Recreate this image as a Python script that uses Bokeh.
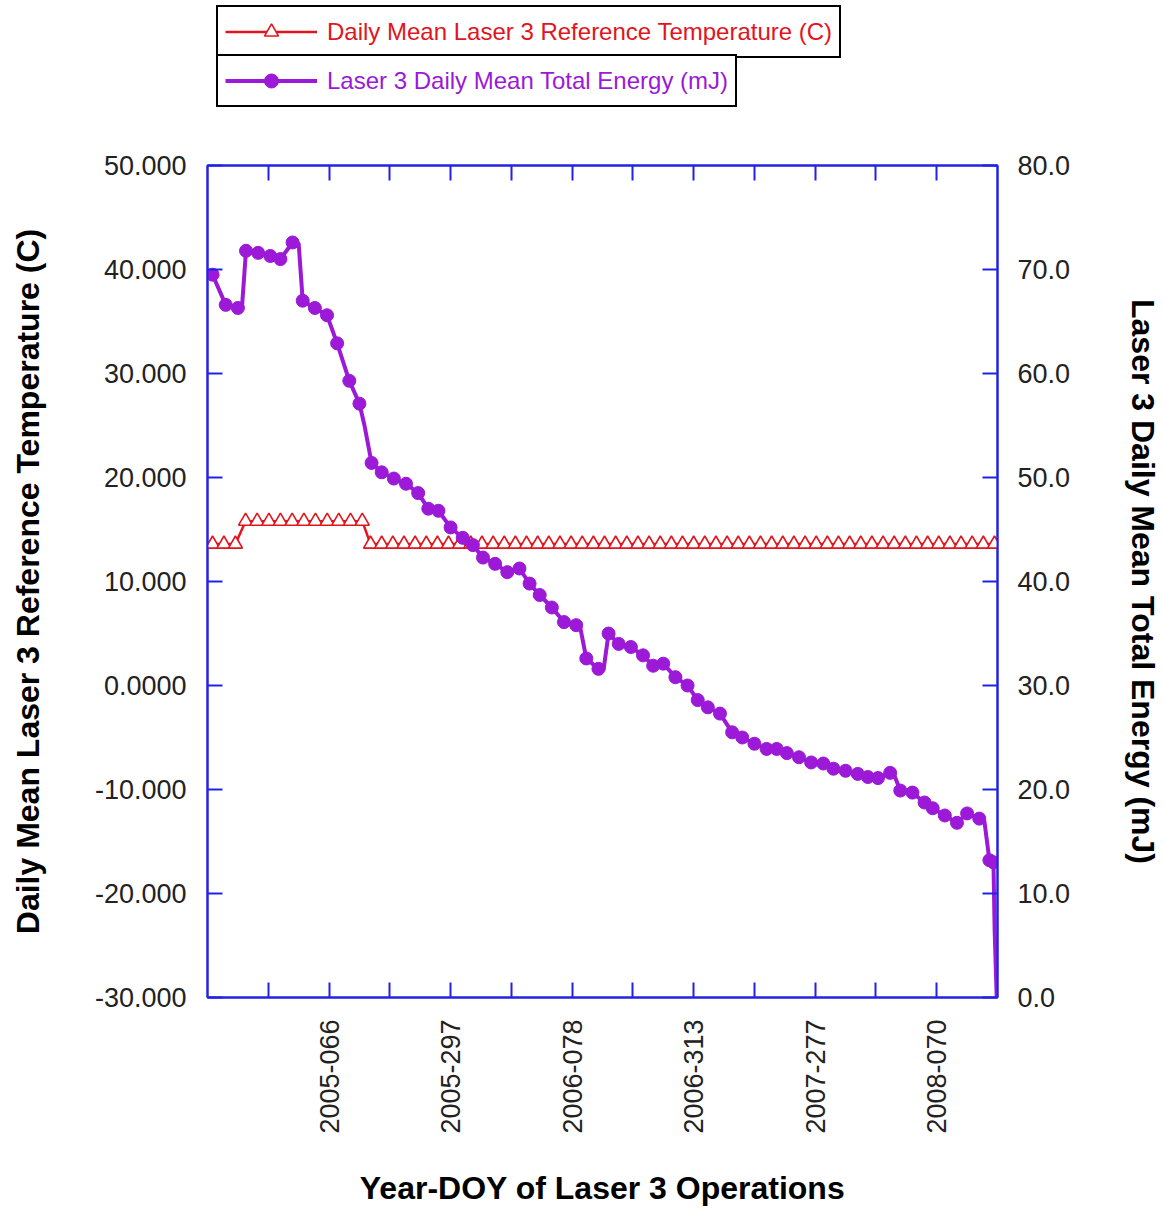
import math
from bokeh.plotting import figure
from bokeh.layouts import column
from bokeh.models import Range1d, LinearAxis, FixedTicker, Legend, LegendItem
from bokeh.embed import file_html
from bokeh.resources import INLINE

# ---------------- data ----------------
# x = day index of Laser 3 operations
energy_days = [2.5, 9, 15, 19, 25, 31, 36, 42, 47, 53, 59, 64, 70, 75, 81, 86, 92, 98,
               104, 109, 114, 120, 126, 131, 136, 142, 148, 154, 159, 164, 170, 176,
               182, 187, 193, 198, 203, 209, 215, 220, 225, 231, 237, 242, 247, 253,
               259, 264, 270, 276, 281, 286, 292, 298, 304, 309, 315, 321, 326, 331,
               337, 342, 348, 354, 358, 364, 370, 375, 381, 386, 388]
energy_mj = [69.5, 66.6, 66.3, 71.8, 71.6, 71.3, 71.0, 72.6, 67.0, 66.3, 65.6, 62.9,
             59.3, 57.1, 51.4, 50.5, 49.9, 49.4, 48.5, 47.0, 46.8, 45.2, 44.2, 43.5,
             42.3, 41.7, 40.9, 41.25, 39.8, 38.7, 37.5, 36.1, 35.8, 32.6, 31.6, 35.0,
             34.0, 33.7, 32.9, 31.9, 32.1, 30.8, 30.0, 28.6, 27.9, 27.3, 25.5, 25.0,
             24.4, 23.9, 23.9, 23.5, 23.1, 22.6, 22.5, 22.0, 21.8, 21.5, 21.2, 21.1,
             21.6, 19.9, 19.7, 18.75, 18.2, 17.5, 16.8, 17.7, 17.2, 13.2, 13.0]
# line-only vertices (steps between markers, final drop)
energy_step_days = [17.0, 45.0, 77.5, 184.0, 195.5, 339.0, 383.5, 388.6, 389.6]
energy_step_mj = [66.3, 72.5, 55.0, 35.6, 31.5, 21.4, 17.0, 6.4, 0.0]

temp_days = [2.5, 8.1, 13.8,
             18.8, 24.5, 30.3, 36.0, 41.8, 47.6, 53.3, 59.1, 64.8, 70.6, 76.4,
             80.5, 86.0, 91.5, 97.0, 102.5, 108.0, 113.5, 119.0, 124.5, 130.0, 135.5,
             141.0, 146.5, 152.0, 157.5, 163.0, 168.5, 174.0, 179.5, 185.0, 190.5,
             196.0, 201.5, 207.0, 212.5, 218.0, 223.5, 229.0, 234.5, 240.0, 245.5,
             251.0, 256.5, 262.0, 267.5, 273.0, 278.5, 284.0, 289.5, 295.0, 300.5,
             306.0, 311.5, 317.0, 322.5, 328.0, 333.5, 339.0, 344.5, 350.0, 355.5,
             361.0, 366.5, 372.0, 377.5, 383.0, 388.5]
temp_c = [13.6] * 3 + [15.8] * 11 + [13.6] * 57

x_tick_days = [30, 60, 90, 120, 150, 180, 210, 240, 270, 300, 330, 360]
x_tick_labels = ["", "2005-066", "", "2005-297", "", "2006-078", "",
                 "2006-313", "", "2007-277", "", "2008-070"]
temp_ticks = [-30, -20, -10, 0, 10, 20, 30, 40, 50]
temp_tick_labels = ["-30.000", "-20.000", "-10.000", "0.0000", "10.000",
                    "20.000", "30.000", "40.000", "50.000"]
energy_ticks = [0, 10, 20, 30, 40, 50, 60, 70, 80]
energy_tick_labels = ["0.0", "10.0", "20.0", "30.0", "40.0", "50.0", "60.0", "70.0", "80.0"]

temp_name = "Daily Mean Laser 3 Reference Temperature (C)"
energy_name = "Laser 3 Daily Mean Total Energy (mJ)"

# ---------------- style ----------------
RED = "#E2141C"
PURPLE = "#9B19D7"
BLUE = "#2222E6"
FONT = "Liberation Sans"
W = 1164
LEG_H = 130
MAIN_H = 1078

p = figure(width=W, height=MAIN_H, x_range=Range1d(0, 390), y_range=Range1d(-30, 50),
           output_backend="svg", toolbar_location=None,
           x_axis_location=None, y_axis_location=None,
           min_border_left=207, min_border_right=W - 997, min_border_top=165 - LEG_H,
           min_border_bottom=MAIN_H - (997 - LEG_H))
p.extra_y_ranges = {"energy": Range1d(0, 80)}
p.xgrid.visible = False
p.ygrid.visible = False
p.outline_line_color = BLUE
p.outline_line_width = 2
p.background_fill_color = "white"
p.border_fill_color = "white"


def style_axis(ax):
    ax.axis_line_color = BLUE
    ax.axis_line_width = 2
    ax.major_tick_line_color = BLUE
    ax.major_tick_line_width = 2
    ax.major_tick_in = 15
    ax.major_tick_out = 0
    ax.minor_tick_line_color = None
    ax.major_label_text_font = FONT
    ax.major_label_text_font_size = "27px"
    ax.major_label_text_color = "#222222"
    ax.axis_label_text_font = FONT
    ax.axis_label_text_font_size = "32px"
    ax.axis_label_text_font_style = "bold"
    ax.axis_label_text_color = "black"


left = LinearAxis(ticker=FixedTicker(ticks=temp_ticks), axis_label=temp_name)
left.major_label_overrides = dict(zip(temp_ticks, temp_tick_labels))
style_axis(left)
left.major_label_standoff = 21
left.axis_label_standoff = 46
p.add_layout(left, "left")

right = LinearAxis(y_range_name="energy", ticker=FixedTicker(ticks=energy_ticks),
                   axis_label=energy_name)
right.major_label_overrides = dict(zip(energy_ticks, energy_tick_labels))
style_axis(right)
right.major_label_standoff = 20
right.axis_label_standoff = 52
p.add_layout(right, "right")

bottom = LinearAxis(ticker=FixedTicker(ticks=x_tick_days),
                    axis_label="Year-DOY of Laser 3 Operations")
bottom.major_label_overrides = dict(zip(x_tick_days, x_tick_labels))
style_axis(bottom)
bottom.major_label_orientation = math.pi / 2
bottom.major_label_standoff = 22
bottom.axis_label_standoff = 33
p.add_layout(bottom, "below")

top = LinearAxis(ticker=FixedTicker(ticks=x_tick_days))
top.major_label_overrides = {d: "" for d in x_tick_days}
style_axis(top)
top.major_label_text_font_size = "0px"
p.add_layout(top, "above")

# ---------------- glyphs ----------------
LINE_T = dict(line_color=RED, line_width=2.5)
MARK_T = dict(marker="triangle", size=14, fill_color="white", line_color=RED, line_width=1.6)
LINE_E = dict(line_color=PURPLE, line_width=4)
MARK_E = dict(marker="circle", size=13, fill_color=PURPLE, line_color=PURPLE)

t_line = p.line(temp_days, temp_c, **LINE_T)
t_mark = p.scatter(temp_days, temp_c, **MARK_T)

line_pts = sorted(zip(energy_days + energy_step_days, energy_mj + energy_step_mj))
e_line = p.line([d for d, _ in line_pts], [v for _, v in line_pts],
                y_range_name="energy", **LINE_E)
e_mark = p.scatter(energy_days, energy_mj, y_range_name="energy", **MARK_E)

# ---------------- legend strip above the chart ----------------
lf = figure(width=W, height=LEG_H, x_range=Range1d(0, 1), y_range=Range1d(0, 1),
            output_backend="svg", toolbar_location=None,
            x_axis_location=None, y_axis_location=None,
            min_border_left=207, min_border_right=W - 997,
            min_border_top=0, min_border_bottom=0)
lf.xgrid.visible = False
lf.ygrid.visible = False
lf.outline_line_color = None
lf.border_fill_color = "white"

# legend swatches reuse the series' own styles (one sample point each, outside the view)
lt_line = lf.line(temp_days[:1], temp_c[:1], **LINE_T)
lt_mark = lf.scatter(temp_days[:1], temp_c[:1], **MARK_T)
le_line = lf.line(energy_days[:1], energy_mj[:1], **LINE_E)
le_mark = lf.scatter(energy_days[:1], energy_mj[:1], **MARK_E)


def make_legend(label, rends, color, y):
    return Legend(items=[LegendItem(label=label, renderers=rends)], location=(9, y),
                  orientation="vertical", margin=0, padding=7, spacing=0,
                  glyph_width=92, glyph_height=35, label_height=35, label_standoff=10,
                  label_text_font=FONT, label_text_font_size="24px",
                  label_text_color=color, border_line_color="black",
                  border_line_alpha=1.0, border_line_width=2,
                  background_fill_color="white", background_fill_alpha=1.0)


lf.add_layout(make_legend(temp_name, [lt_line, lt_mark], RED, LEG_H - 58))
lf.add_layout(make_legend(energy_name, [le_line, le_mark], PURPLE, LEG_H - 107))

layout = column(lf, p, spacing=0)
open("out.html", "w").write(file_html(layout, INLINE))
